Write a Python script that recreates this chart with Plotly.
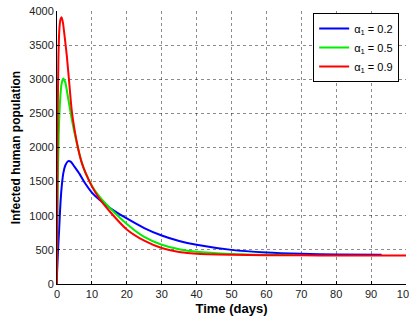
import plotly.graph_objects as go

# Hand-read data (time in days, infected human population)
blue_t = [0, 0.3, 0.6, 0.9, 1.3, 1.8, 2.4, 3.2, 4.0, 5.0, 6.5, 8, 10, 12, 15, 20, 25, 30, 35, 40, 50, 60, 70, 80, 93]
blue_v = [150, 500, 780, 1100, 1400, 1620, 1740, 1800, 1790, 1720, 1610, 1480, 1340, 1240, 1120, 960, 820, 710, 630, 575, 500, 462, 443, 433, 428]

green_t = [0, 0.2, 0.5, 0.9, 1.3, 1.8, 2.4, 3.0, 4.0, 5.0, 6.5, 8, 10, 12, 15, 20, 25, 30, 35, 40, 50, 60, 68]
green_v = [400, 1400, 2200, 2700, 2930, 3010, 2950, 2780, 2480, 2220, 1890, 1650, 1440, 1290, 1120, 880, 690, 575, 510, 472, 440, 428, 425]

red_t = [0, 0.15, 0.4, 0.7, 1.0, 1.3, 1.7, 2.2, 2.8, 3.5, 4.2, 5, 6, 7, 8.5, 10, 12, 15, 20, 25, 30, 35, 40, 50, 60, 70, 80, 100]
red_v = [0, 2200, 3300, 3750, 3880, 3910, 3830, 3620, 3350, 2950, 2550, 2270, 2000, 1790, 1590, 1430, 1260, 1070, 800, 635, 527, 470, 442, 428, 422, 420, 419, 418]

names = ["α<sub>1</sub> = 0.2", "α<sub>1</sub> = 0.5", "α<sub>1</sub> = 0.9"]
colors = ["#0000ff", "#00ee00", "#ff0000"]

fig = go.Figure()
for t, v, n, c in [(blue_t, blue_v, names[0], colors[0]),
                   (green_t, green_v, names[1], colors[1]),
                   (red_t, red_v, names[2], colors[2])]:
    fig.add_trace(go.Scatter(x=t, y=v, mode="lines", name=n,
                             line=dict(color=c, width=2, shape="spline", smoothing=0.6)))

axis_common = dict(
    showgrid=True, gridcolor="rgba(0,0,0,0.45)", griddash="dot", gridwidth=1,
    showline=True, linecolor="black", linewidth=1,
    ticks="inside", ticklen=3, tickcolor="black",
    tickfont=dict(family="Liberation Sans, Arial", size=11, color="#222"),
    zeroline=False, mirror=False, automargin=False,
    ticklabeloverflow="allow",
)

fig.update_layout(
    width=409, height=321,
    margin=dict(l=57, r=3, t=11, b=37),
    paper_bgcolor="white", plot_bgcolor="white",
    font=dict(family="Liberation Sans, Arial", color="black"),
    xaxis=dict(range=[0, 100], dtick=10,
               title=dict(text="<b>Time (days)</b>", font=dict(size=13), standoff=4),
               **axis_common),
    yaxis=dict(range=[0, 4000], dtick=500,
               title=dict(text="<b>Infected human population</b>", font=dict(size=12), standoff=6),
               **axis_common),
    legend=dict(x=0.734, y=0.993, xanchor="left", yanchor="top",
                bgcolor="white", bordercolor="black", borderwidth=1,
                font=dict(size=11, family="Liberation Sans, Arial"),
                itemwidth=30, tracegroupgap=0),
    showlegend=True,
)

fig.write_html("out.html", config={"displayModeBar": False},
               post_script="document.body.style.margin='0';")
